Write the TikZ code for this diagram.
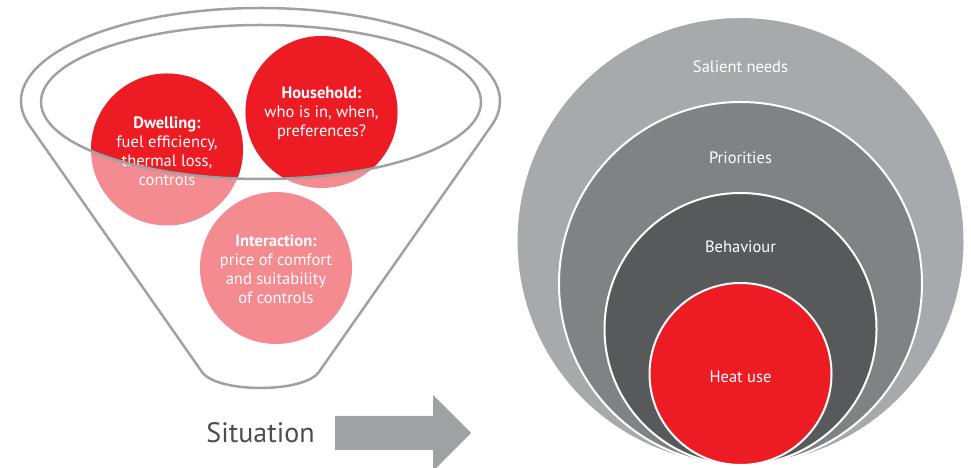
\documentclass[tikz,border=0pt]{standalone}
\usepackage{fontspec}
\setmainfont{PT Sans}
\definecolor{heatred}{HTML}{ED1C24}
\definecolor{heatpink}{HTML}{F48B91}
\definecolor{needgray}{HTML}{A7A9AC}
\definecolor{priogray}{HTML}{808285}
\definecolor{behavgray}{HTML}{58595B}
\definecolor{rimgray}{HTML}{A0A1A4}
\definecolor{textgray}{HTML}{4D4D4F}
\begin{document}
\begin{tikzpicture}[x=1pt,y=1pt,
    rim/.style={draw=rimgray,line width=2.5pt},
    ring/.style={draw=white,line width=2pt},
    tag/.style={text=white,align=center,font=\fontsize{16.5}{19}\selectfont}]
  \useasboundingbox (0,0) rectangle (971,468);

  \coordinate (dwell) at (167,318.5);
  \coordinate (house) at (321.5,356);
  \coordinate (inter) at (276,200);
  \coordinate (mouth) at (261,366);
  \coordinate (core) at (740.5,3);

  % funnel contents
  \fill[heatpink] (dwell) circle (76) (house) circle (76) (inter) circle (76);
  \begin{scope}
    \clip (mouth) ellipse [x radius=220, y radius=77];
    \fill[heatred] (dwell) circle (76) (house) circle (76);
  \end{scope}

  \node[tag] (dwelltxt) at ([yshift=-2]dwell) {\textbf{Dwelling:}\\fuel efficiency,\\thermal loss,\\controls};
  \node[tag] (housetxt) at ([yshift=-1]house) {\textbf{Household:}\\who is in, when,\\preferences?};
  \node[tag] (intertxt) at ([yshift=-1]inter) {\textbf{Interaction:}\\price of comfort\\and suitability\\of controls};

  % funnel
  \draw[rim] (mouth) ellipse [x radius=220, y radius=77];
  \draw[rim] (202,96) -- (29.4,342.6)
    arc[start angle=195.2, end angle=-15.2, x radius=239.5, y radius=93]
    -- (318.9,96) .. controls (304,74.7) and (217,74.7) .. (202,96);

  \node[text=textgray,font=\fontsize{28}{32}\selectfont] (situation) at (260.5,35) {Situation};
  \fill[rimgray] (335,52) -- (433,52) -- (433,73) -- (471,35) -- (433,-3) -- (433,18) -- (335,18) -- cycle;

  % nested circles
  \filldraw[needgray,ring] ([yshift=224]core) circle (224);
  \filldraw[priogray,ring] ([yshift=181.5]core) circle (181.5);
  \filldraw[behavgray,ring] ([yshift=136]core) circle (136);
  \filldraw[heatred,ring] ([yshift=91]core) circle (91);

  \node[tag] (needs) at (740.5,401) {Salient needs};
  \node[tag] (prio) at (740.5,310) {Priorities};
  \node[tag] (behav) at (740.5,221) {Behaviour};
  \node[tag] (heat) at (740.5,91) {Heat use};
\end{tikzpicture}
\end{document}
